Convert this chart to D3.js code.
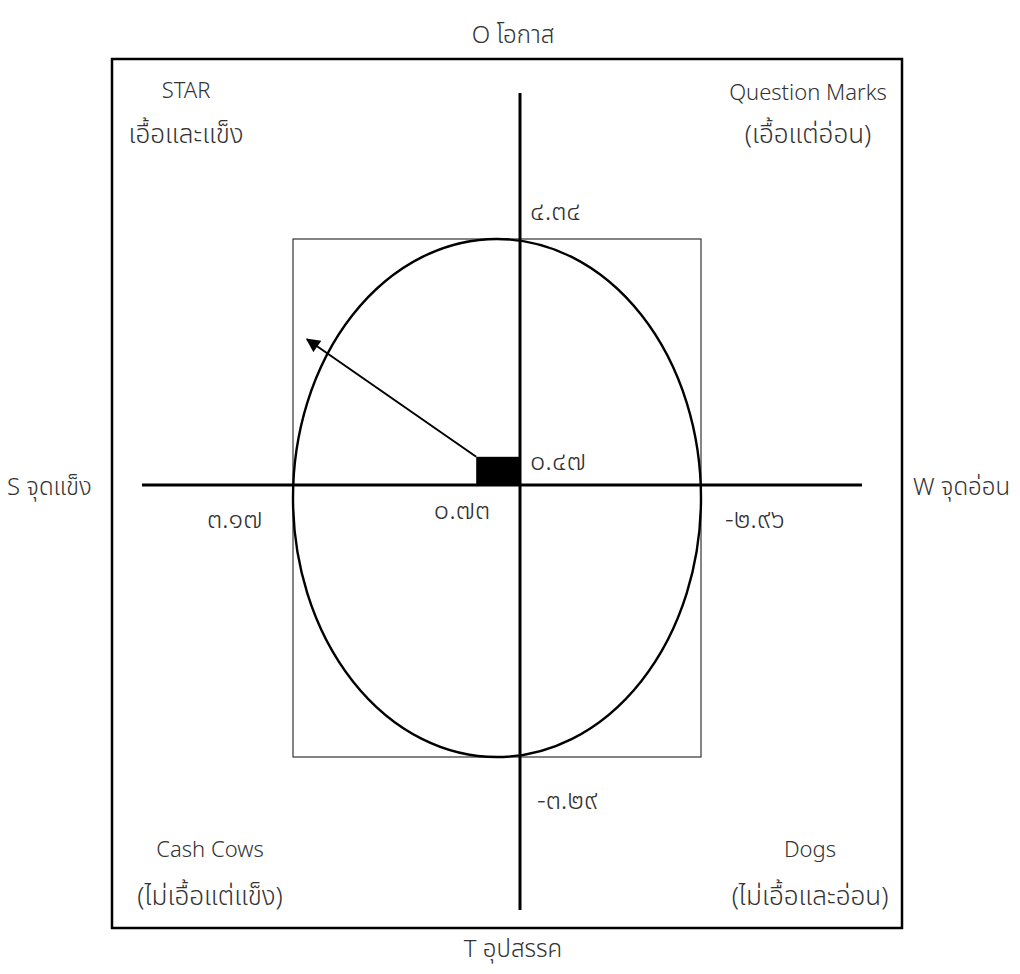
<!DOCTYPE html>
<html>
<head>
<meta charset="utf-8">
<script src="https://cdn.jsdelivr.net/npm/d3@7/dist/d3.min.js"></script>
<style>
  html, body { margin: 0; padding: 0; background: #fff; }
  svg text { font-family: "Noto Sans Thai", "Noto Sans Thai Looped", "Noto Sans", "DejaVu Sans", sans-serif; fill: #333; font-weight: 300; }
</style>
</head>
<body>
<svg id="chart" width="1020" height="974"></svg>
<script>
// ---- data ----
const axisNames = ["O โอกาส", "T อุปสรรค", "S จุดแข็ง", "W จุดอ่อน"];
const quadrantTitles = ["STAR", "Question Marks", "Cash Cows", "Dogs"];
const quadrantSubtitles = ["เอื้อและแข็ง", "(เอื้อแต่อ่อน)", "(ไม่เอื้อแต่แข็ง)", "(ไม่เอื้อและอ่อน)"];
const strengthWeakness = [3.17, -2.96];      // S, W
const opportunityThreat = [4.34, -3.29];     // O, T
const valueLabels = ["๓.๑๗", "−๒.๙๖", "๔.๓๔", "−๓.๒๙"];
const resultPoint = [0.73, 0.47];            // x (S-W), y (O-T)
const resultLabels = ["๐.๗๓", "๐.๔๗"];
const arrowTip = [3.55, 2.43];

const svg = d3.select("#chart");

// piecewise scales: S on the left, W on the right; O on top, T at bottom
const x = d3.scaleLinear().domain([strengthWeakness[0], 0, strengthWeakness[1]]).range([293, 520, 701]);
const y = d3.scaleLinear().domain([opportunityThreat[0], 0, opportunityThreat[1]]).range([239, 485, 757]);
// marker scale for the result box and arrow (uniform units)
const mx = d3.scaleLinear().domain([0, 1]).range([x(0), x(0) - 60]);
const my = d3.scaleLinear().domain([0, 1]).range([y(0), y(0) - 60]);

// defs arrowhead
svg.append("defs").append("marker")
  .attr("id", "arrow").attr("viewBox", "0 0 10 10")
  .attr("refX", 9).attr("refY", 5)
  .attr("markerWidth", 8).attr("markerHeight", 7)
  .attr("markerUnits", "strokeWidth")
  .attr("orient", "auto")
  .append("path").attr("d", "M0,0 L10,5 L0,10 Z").attr("fill", "#000");

// outer frame
svg.append("rect").attr("x", 112).attr("y", 59).attr("width", 790).attr("height", 869)
  .attr("fill", "none").attr("stroke", "#000").attr("stroke-width", 2.5);

// inner rect
const x0 = x(strengthWeakness[0]), x1 = x(strengthWeakness[1]);
const y0 = y(opportunityThreat[0]), y1 = y(opportunityThreat[1]);
svg.append("rect").attr("x", x0).attr("y", y0).attr("width", x1 - x0).attr("height", y1 - y0)
  .attr("fill", "none").attr("stroke", "#333").attr("stroke-width", 1.2);

// ellipse
svg.append("ellipse")
  .attr("cx", (x0 + x1) / 2).attr("cy", (y0 + y1) / 2)
  .attr("rx", (x1 - x0) / 2).attr("ry", (y1 - y0) / 2)
  .attr("fill", "none").attr("stroke", "#000").attr("stroke-width", 2.4);

// axes
svg.append("line").attr("x1", x(0)).attr("x2", x(0)).attr("y1", 93).attr("y2", 910)
  .attr("stroke", "#000").attr("stroke-width", 3);
svg.append("line").attr("x1", 142).attr("x2", 862).attr("y1", y(0)).attr("y2", y(0))
  .attr("stroke", "#000").attr("stroke-width", 3.2);

// result box
svg.append("rect")
  .attr("x", mx(resultPoint[0])).attr("y", my(resultPoint[1]))
  .attr("width", mx(0) - mx(resultPoint[0])).attr("height", my(0) - my(resultPoint[1]))
  .attr("fill", "#000");

// arrow
svg.append("line")
  .attr("x1", mx(resultPoint[0])).attr("y1", my(resultPoint[1]))
  .attr("x2", mx(arrowTip[0])).attr("y2", my(arrowTip[1]))
  .attr("stroke", "#000").attr("stroke-width", 2)
  .attr("marker-end", "url(#arrow)");

// axis names
const afs = 24;
svg.append("text").attr("x", 513).attr("y", 43).attr("text-anchor", "middle").attr("font-size", afs).text(axisNames[0]);
svg.append("text").attr("x", 513).attr("y", 957).attr("text-anchor", "middle").attr("font-size", afs).text(axisNames[1]);
svg.append("text").attr("x", 7).attr("y", 495).attr("text-anchor", "start").attr("font-size", afs).text(axisNames[2]);
svg.append("text").attr("x", 913).attr("y", 495).attr("text-anchor", "start").attr("font-size", afs).text(axisNames[3]);

// quadrant labels
const tfs = 22, sfs = 26;
const qpos = [[186, 98, 143], [808, 100, 143], [210, 857, 905], [810, 857, 905]];
quadrantTitles.forEach((t, i) => {
  svg.append("text").attr("x", qpos[i][0]).attr("y", qpos[i][1]).attr("text-anchor", "middle").attr("font-size", tfs).text(t);
  svg.append("text").attr("x", qpos[i][0]).attr("y", qpos[i][2]).attr("text-anchor", "middle").attr("font-size", sfs).text(quadrantSubtitles[i]);
});

// value labels
const vfs = 27;
svg.append("text").attr("x", 207).attr("y", y(0) + 43).attr("font-size", vfs).text(valueLabels[0]);
svg.append("text").attr("x", 725).attr("y", y(0) + 43).attr("font-size", vfs).text(valueLabels[1]);
svg.append("text").attr("x", x(0) + 10).attr("y", y(opportunityThreat[0]) - 19).attr("font-size", vfs).text(valueLabels[2]);
svg.append("text").attr("x", x(0) + 17).attr("y", y(opportunityThreat[1]) + 52).attr("font-size", vfs).text(valueLabels[3]);
svg.append("text").attr("x", x(0) - 30).attr("y", y(0) + 34).attr("text-anchor", "end").attr("font-size", vfs).text(resultLabels[0]);
svg.append("text").attr("x", x(0) + 10).attr("y", y(0) - 15).attr("font-size", vfs).text(resultLabels[1]);
</script>
</body>
</html>
